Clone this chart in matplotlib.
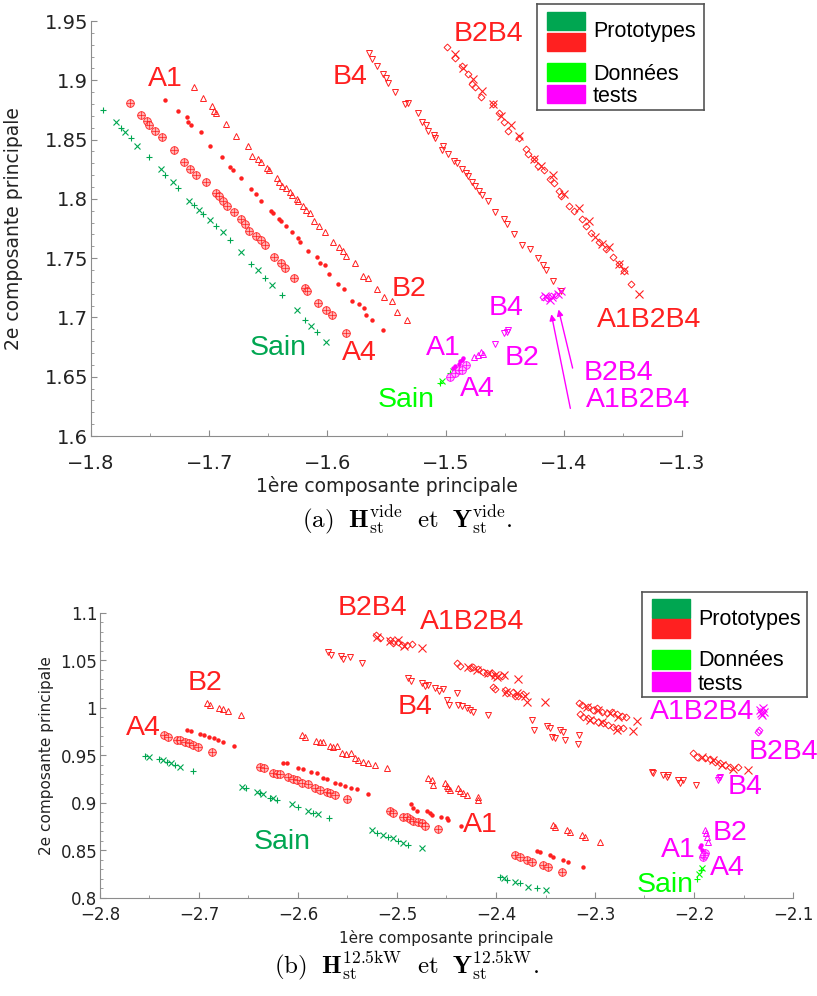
import matplotlib
matplotlib.use('Agg')
import matplotlib.pyplot as plt
from matplotlib.patches import Rectangle
from matplotlib.ticker import MultipleLocator, AutoMinorLocator, FuncFormatter

plt.rcParams['mathtext.fontset'] = 'cm'

W, H = 817, 996
DKGREEN = '#00a651'
RED = '#ff2020'
LTGREEN = '#00ff00'
MAG = '#ff00ff'
LABEL_FONT = 'Liberation Sans'

# ---------------- (a) vide : prototypes ----------------
top_sain_x = [-1.790, -1.779, -1.775, -1.771, -1.766, -1.761, -1.751, -1.741, -1.737, -1.731, -1.726, -1.717, -1.713,
              -1.709, -1.705, -1.699, -1.694, -1.688, -1.682, -1.673, -1.665, -1.659, -1.653, -1.647, -1.638, -1.626,
              -1.619, -1.614, -1.609, -1.601]
top_sain_y = [1.875, 1.865, 1.860, 1.856, 1.851, 1.845, 1.835, 1.825, 1.820, 1.814, 1.809, 1.798, 1.795, 1.791, 1.787,
              1.782, 1.777, 1.772, 1.765, 1.755, 1.745, 1.740, 1.733, 1.727, 1.719, 1.706, 1.698, 1.693, 1.688, 1.679]

top_a4_x = [-1.767, -1.758, -1.753, -1.751, -1.746, -1.740, -1.730, -1.721, -1.716, -1.711, -1.703, -1.694, -1.692,
            -1.688, -1.685, -1.679, -1.673, -1.670, -1.666, -1.660, -1.656, -1.653, -1.645, -1.639, -1.636, -1.628,
            -1.619, -1.617, -1.608, -1.601, -1.596, -1.584]
top_a4_y = [1.881, 1.871, 1.866, 1.862, 1.857, 1.852, 1.841, 1.831, 1.825, 1.820, 1.814, 1.805, 1.802, 1.798, 1.794,
            1.789, 1.783, 1.779, 1.773, 1.769, 1.765, 1.761, 1.751, 1.746, 1.742, 1.733, 1.725, 1.722, 1.712, 1.706,
            1.702, 1.687]

top_a1_x = [-1.737, -1.726, -1.719, -1.718, -1.715, -1.707, -1.699, -1.689, -1.682, -1.680, -1.673, -1.665, -1.660,
            -1.656, -1.648, -1.646, -1.641, -1.639, -1.635, -1.630, -1.625, -1.623, -1.616, -1.609, -1.606, -1.602,
            -1.599, -1.591, -1.586, -1.579, -1.573, -1.569, -1.567, -1.562, -1.553]
top_a1_y = [1.883, 1.874, 1.869, 1.865, 1.862, 1.856, 1.845, 1.835, 1.827, 1.824, 1.818, 1.808, 1.804, 1.798, 1.790,
            1.788, 1.783, 1.781, 1.777, 1.772, 1.767, 1.764, 1.756, 1.751, 1.746, 1.744, 1.737, 1.728, 1.724, 1.714,
            1.711, 1.708, 1.702, 1.698, 1.689]

top_b2_x = [-1.713, -1.705, -1.698, -1.696, -1.694, -1.686, -1.677, -1.667, -1.664, -1.659, -1.656, -1.651, -1.649,
            -1.643, -1.641, -1.638, -1.635, -1.632, -1.630, -1.626, -1.625, -1.621, -1.618, -1.615, -1.611, -1.607,
            -1.602, -1.595, -1.590, -1.587, -1.584, -1.577, -1.570, -1.566, -1.558, -1.552, -1.545, -1.541, -1.533]
top_b2_y = [1.894, 1.885, 1.878, 1.874, 1.872, 1.863, 1.853, 1.845, 1.836, 1.834, 1.831, 1.826, 1.824, 1.818, 1.814,
            1.811, 1.809, 1.806, 1.803, 1.800, 1.798, 1.794, 1.791, 1.788, 1.781, 1.777, 1.772, 1.764, 1.759, 1.756,
            1.752, 1.746, 1.735, 1.733, 1.724, 1.717, 1.714, 1.705, 1.698]

top_b4_x = [-1.565, -1.562, -1.558, -1.553, -1.550, -1.549, -1.543, -1.534, -1.532, -1.523, -1.520, -1.517, -1.515,
            -1.510, -1.509, -1.502, -1.503, -1.498, -1.493, -1.490, -1.486, -1.483, -1.481, -1.478, -1.475, -1.472,
            -1.469, -1.464, -1.458, -1.451, -1.448, -1.442, -1.435, -1.429, -1.422, -1.418, -1.415, -1.409, -1.402]
top_b4_y = [1.923, 1.918, 1.912, 1.905, 1.902, 1.898, 1.890, 1.880, 1.881, 1.872, 1.865, 1.862, 1.857, 1.854, 1.851,
            1.845, 1.841, 1.838, 1.832, 1.830, 1.825, 1.822, 1.819, 1.814, 1.811, 1.807, 1.803, 1.798, 1.789, 1.783,
            1.779, 1.770, 1.761, 1.758, 1.750, 1.744, 1.740, 1.731, 1.722]

top_b2b4_x = [-1.499, -1.492, -1.486, -1.481, -1.478, -1.475, -1.470, -1.460, -1.455, -1.451, -1.447, -1.438, -1.432,
              -1.430, -1.425, -1.422, -1.417, -1.412, -1.408, -1.404, -1.402, -1.396, -1.391, -1.385, -1.381, -1.377,
              -1.370, -1.364, -1.358, -1.353, -1.349, -1.343]
top_b2b4_y = [1.928, 1.919, 1.912, 1.905, 1.897, 1.894, 1.886, 1.880, 1.872, 1.865, 1.857, 1.851, 1.842, 1.838,
              1.834, 1.828, 1.824, 1.817, 1.813, 1.807, 1.802, 1.794, 1.790, 1.783, 1.777, 1.771, 1.764, 1.758,
              1.751, 1.745, 1.739, 1.728]

top_a1b2b4_x = [-1.492, -1.485, -1.477, -1.469, -1.460, -1.453, -1.445, -1.438, -1.425, -1.419, -1.409, -1.400,
                -1.387, -1.379, -1.374, -1.368, -1.362, -1.353, -1.349, -1.336]
top_a1b2b4_y = [1.922, 1.910, 1.901, 1.891, 1.880, 1.870, 1.862, 1.853, 1.834, 1.828, 1.820, 1.804, 1.792, 1.781,
                1.768, 1.762, 1.759, 1.745, 1.740, 1.720]

# (a) vide : données tests
top_t_sain_x = [-1.505, -1.503, -1.496, -1.494]
top_t_sain_y = [1.645, 1.646, 1.653, 1.655]
top_t_a1_x = [-1.494, -1.492, -1.489, -1.486, -1.485, -1.488]
top_t_a1_y = [1.657, 1.659, 1.661, 1.664, 1.666, 1.663]
top_t_a4_x = [-1.496, -1.492, -1.489, -1.483, -1.486]
top_t_a4_y = [1.650, 1.653, 1.656, 1.660, 1.656]
top_t_b2_x = [-1.476, -1.473, -1.468, -1.470]
top_t_b2_y = [1.667, 1.668, 1.669, 1.671]
top_t_b4_x = [-1.458, -1.451, -1.447, -1.448]
top_t_b4_y = [1.678, 1.687, 1.689, 1.688]
top_t_b2b4_x = [-1.418, -1.414, -1.411, -1.407]
top_t_b2b4_y = [1.717, 1.716, 1.718, 1.719]
top_t_a1b2b4_x = [-1.416, -1.410, -1.405, -1.402, -1.412]
top_t_a1b2b4_y = [1.718, 1.717, 1.720, 1.722, 1.715]

# ---------------- (b) 12.5kW : prototypes ----------------
bot_sain_x = [-2.7545, -2.7505, -2.7404, -2.7364, -2.7323, -2.7283, -2.7242, -2.7192, -2.7061,
              -2.6566, -2.6525, -2.6414, -2.6384, -2.6354, -2.6283, -2.6253, -2.6212, -2.6061, -2.6000, -2.5899,
              -2.5848, -2.5798, -2.5687,
              -2.5253, -2.5202, -2.5141, -2.5091, -2.5040, -2.4990, -2.4939, -2.4889, -2.4747,
              -2.3960, -2.3919, -2.3889, -2.3808, -2.3758, -2.3677, -2.3586, -2.3495]
bot_sain_y = [0.9495, 0.9484, 0.9463, 0.9453, 0.9432, 0.9421, 0.9400, 0.9379, 0.9337,
              0.9168, 0.9158, 0.9116, 0.9105, 0.9095, 0.9053, 0.9053, 0.9032, 0.8989, 0.8958, 0.8916,
              0.8895, 0.8884, 0.8842,
              0.8716, 0.8684, 0.8663, 0.8642, 0.8632, 0.8600, 0.8579, 0.8558, 0.8526,
              0.8221, 0.8211, 0.8189, 0.8168, 0.8158, 0.8116, 0.8105, 0.8084]

bot_a4_x = [-2.7354, -2.7313, -2.7222, -2.7192, -2.7141, -2.7101, -2.7061, -2.7010, -2.6869,
            -2.6384, -2.6343, -2.6253, -2.6212, -2.6182, -2.6101, -2.6051, -2.6010, -2.5960, -2.5899, -2.5828,
            -2.5778, -2.5707, -2.5677, -2.5626, -2.5505,
            -2.5071, -2.5040, -2.4939, -2.4899, -2.4869, -2.4838, -2.4788, -2.4747, -2.4717, -2.4586,
            -2.3808, -2.3758, -2.3687, -2.3636, -2.3525, -2.3475, -2.3333]
bot_a4_y = [0.9716, 0.9695, 0.9663, 0.9663, 0.9642, 0.9632, 0.9611, 0.9589, 0.9537,
            0.9379, 0.9368, 0.9316, 0.9305, 0.9305, 0.9274, 0.9253, 0.9242, 0.9211, 0.9200, 0.9158,
            0.9137, 0.9116, 0.9105, 0.9084, 0.9042,
            0.8916, 0.8895, 0.8853, 0.8853, 0.8832, 0.8811, 0.8800, 0.8789, 0.8758, 0.8726,
            0.8453, 0.8432, 0.8400, 0.8379, 0.8347, 0.8326, 0.8274]

bot_a1_x = [-2.7121, -2.7081, -2.6990, -2.6949, -2.6899, -2.6848, -2.6808, -2.6758, -2.6646,
            -2.6152, -2.6111, -2.6000, -2.5949, -2.5869, -2.5808, -2.5747, -2.5707, -2.5626, -2.5576, -2.5525,
            -2.5465, -2.5404, -2.5293,
            -2.4859, -2.4838, -2.4798, -2.4697, -2.4667, -2.4646, -2.4556, -2.4495, -2.4485, -2.4354,
            -2.3586, -2.3556, -2.3455, -2.3424, -2.3323, -2.3273, -2.3121]
bot_a1_y = [0.9768, 0.9758, 0.9726, 0.9716, 0.9695, 0.9684, 0.9663, 0.9642, 0.9600,
            0.9421, 0.9421, 0.9368, 0.9358, 0.9326, 0.9316, 0.9263, 0.9253, 0.9211, 0.9200, 0.9179,
            0.9158, 0.9147, 0.9095,
            0.8989, 0.8947, 0.8916, 0.8916, 0.8895, 0.8874, 0.8853, 0.8842, 0.8821, 0.8758,
            0.8495, 0.8484, 0.8453, 0.8432, 0.8400, 0.8379, 0.8326]

bot_b2_x = [-2.6919, -2.6889, -2.6798, -2.6758, -2.6707, -2.6576,
            -2.5960, -2.5929, -2.5818, -2.5778, -2.5747, -2.5677, -2.5646, -2.5606, -2.5556, -2.5515, -2.5465,
            -2.5424, -2.5394, -2.5343, -2.5293, -2.5222, -2.5101,
            -2.4687, -2.4646, -2.4636, -2.4515, -2.4495, -2.4485, -2.4465, -2.4384, -2.4364, -2.4333, -2.4293,
            -2.4182, -2.4182,
            -2.3424, -2.3404, -2.3283, -2.3253, -2.3131, -2.3101, -2.2949]
bot_b2_y = [1.0053, 1.0032, 1.0000, 0.9989, 0.9968, 0.9926,
            0.9716, 0.9695, 0.9653, 0.9642, 0.9642, 0.9600, 0.9589, 0.9600, 0.9526, 0.9516, 0.9526,
            0.9474, 0.9453, 0.9432, 0.9421, 0.9400, 0.9368,
            0.9263, 0.9242, 0.9189, 0.9211, 0.9179, 0.9158, 0.9137, 0.9158, 0.9126, 0.9105, 0.9084,
            0.9063, 0.9032,
            0.8768, 0.8747, 0.8716, 0.8695, 0.8663, 0.8642, 0.8589]

bot_b4_x = [-2.5697, -2.5667, -2.5566, -2.5545, -2.5475, -2.5354,
            -2.4889, -2.4859, -2.4747, -2.4717, -2.4687, -2.4616, -2.4576, -2.4535, -2.4495, -2.4475, -2.4394,
            -2.4384, -2.4343, -2.4293, -2.4263, -2.4232, -2.4081,
            -2.3636, -2.3616, -2.3485, -2.3455, -2.3434, -2.3404, -2.3354, -2.3323, -2.3303, -2.3162, -2.3172,
            -2.2424, -2.2414, -2.2313, -2.2273, -2.2263, -2.2162, -2.2141, -2.2111, -2.1980]
bot_b4_y = [1.0589, 1.0558, 1.0547, 1.0516, 1.0537, 1.0474,
            1.0316, 1.0284, 1.0263, 1.0232, 1.0242, 1.0211, 1.0179, 1.0200, 1.0084, 1.0032, 1.0158,
            1.0032, 1.0021, 1.0000, 0.9979, 0.9958, 0.9926,
            0.9874, 0.9768, 0.9811, 0.9789, 0.9695, 0.9684, 0.9768, 0.9747, 0.9663, 0.9716, 0.9621,
            0.9326, 0.9316, 0.9295, 0.9274, 0.9295, 0.9242, 0.9211, 0.9242, 0.9189]

bot_b2b4_x = [-2.5212, -2.5172, -2.5071, -2.5040, -2.4990, -2.4949, -2.4899, -2.4848,
              -2.4394, -2.4364, -2.4263, -2.4232, -2.4182, -2.4131, -2.4091, -2.4040, -2.4010, -2.3939,
              -2.4030, -2.4010, -2.3909, -2.3889, -2.3828, -2.3808, -2.3778, -2.3727,
              -2.3162, -2.3131, -2.3071, -2.3020, -2.2980, -2.2929, -2.2879, -2.2828, -2.2778, -2.2727, -2.2687,
              -2.3152, -2.3121, -2.3071, -2.3020, -2.2970, -2.2919, -2.2869, -2.2818, -2.2768, -2.2717,
              -2.2010, -2.1970, -2.1889, -2.1838, -2.1788, -2.1737, -2.1687, -2.1636, -2.1556]
bot_b2b4_y = [1.0768, 1.0737, 1.0716, 1.0684, 1.0695, 1.0663, 1.0663, 1.0674,
              1.0474, 1.0442, 1.0421, 1.0432, 1.0411, 1.0379, 1.0368, 1.0368, 1.0337, 1.0337,
              1.0221, 1.0200, 1.0189, 1.0158, 1.0168, 1.0126, 1.0126, 1.0147,
              1.0053, 1.0032, 1.0011, 0.9979, 1.0000, 0.9958, 0.9947, 0.9958, 0.9937, 0.9916, 0.9905,
              0.9937, 0.9905, 0.9895, 0.9874, 0.9853, 0.9842, 0.9821, 0.9800, 0.9789, 0.9789,
              0.9526, 0.9484, 0.9474, 0.9463, 0.9432, 0.9421, 0.9400, 0.9379, 0.9379]

bot_a1b2b4_x = [-2.5202, -2.5071, -2.4990, -2.4929, -2.4747,
                -2.4283, -2.4192, -2.4081, -2.4010, -2.3990, -2.3919, -2.3778, -2.3899, -2.3788, -2.3707, -2.3687,
                -2.3505,
                -2.3081, -2.2970, -2.2848, -2.2768, -2.2576, -2.3051, -2.2929, -2.2778, -2.2616,
                -2.1919, -2.1808, -2.1717, -2.1606, -2.1455]
bot_a1b2b4_y = [1.0747, 1.0705, 1.0716, 1.0653, 1.0632,
                1.0432, 1.0400, 1.0368, 1.0347, 1.0326, 1.0347, 1.0305, 1.0168, 1.0158, 1.0126, 1.0063,
                1.0063,
                1.0011, 0.9979, 0.9947, 0.9905, 0.9863, 0.9874, 0.9853, 0.9768, 0.9758,
                0.9484, 0.9453, 0.9400, 0.9358, 0.9347]

# (b) 12.5kW : données tests
bot_t_sain_x = [-2.1970, -2.1950, -2.1930, -2.1919]
bot_t_sain_y = [0.8200, 0.8250, 0.8290, 0.8316]
bot_t_a4_x = [-2.1889, -2.1909, -2.1899]
bot_t_a4_y = [0.8474, 0.8432, 0.8450]
bot_t_a1_x = [-2.1939, -2.1919, -2.1929]
bot_t_a1_y = [0.8537, 0.8505, 0.8560]
bot_t_b2_x = [-2.1889, -2.1869, -2.1859, -2.1879]
bot_t_b2_y = [0.8716, 0.8642, 0.8589, 0.8680]
bot_t_b4_x = [-2.1737, -2.1758, -2.1747]
bot_t_b4_y = [0.9274, 0.9242, 0.9260]
bot_t_b2b4_x = [-2.1354, -2.1344]
bot_t_b2b4_y = [0.9747, 0.9768]
bot_t_a1b2b4_x = [-2.1333, -2.1313, -2.1303, -2.1290, -2.1320]
bot_t_a1b2b4_y = [0.9979, 0.9926, 1.0000, 0.9960, 0.9950]


fig = plt.figure(figsize=(W / 100, H / 100), dpi=100)


def px_axes(x0, y0, x1, y1):
    return fig.add_axes([x0 / W, 1 - y1 / H, (x1 - x0) / W, (y1 - y0) / H])


def fmt(v, pos):
    return f"{v:g}".replace('-', '\u2212')


def style_axes(ax, xlim, ylim, xstep, ystep, tsize, lsize, xpad, xlpad, ylx):
    ax.set_xlim(*xlim)
    ax.set_ylim(*ylim)
    ax.xaxis.set_major_locator(MultipleLocator(xstep))
    ax.yaxis.set_major_locator(MultipleLocator(ystep))
    ax.xaxis.set_minor_locator(AutoMinorLocator(2))
    ax.yaxis.set_minor_locator(AutoMinorLocator(5))
    ax.xaxis.set_major_formatter(FuncFormatter(fmt))
    ax.yaxis.set_major_formatter(FuncFormatter(fmt))
    for s in ['top', 'right']:
        ax.spines[s].set_visible(False)
    for s in ['left', 'bottom']:
        ax.spines[s].set_color('#8c8c8c')
    ax.tick_params(which='both', direction='in', color='#8c8c8c', labelsize=tsize, labelcolor='#222222')
    ax.tick_params(axis='y', pad=2)
    ax.tick_params(axis='x', pad=xpad)
    ax.tick_params(which='major', length=4)
    ax.tick_params(which='minor', length=2)
    ax.set_xlabel('1ère composante principale', fontsize=lsize, color='#222222', labelpad=xlpad)
    ax.set_ylabel('2e composante principale', fontsize=lsize, color='#222222')
    ax.yaxis.set_label_coords(ylx, 0.5)


def draw_classes(ax, d, test=False):
    c = MAG if test else RED
    g = LTGREEN if test else DKGREEN
    sx, sy = d['sain']
    ax.plot(sx[0::2], sy[0::2], ls='none', marker='+', ms=5, mew=0.8, color=g)
    ax.plot(sx[1::2], sy[1::2], ls='none', marker='x', ms=4, mew=0.8, color=g)
    x, y = d['a4']
    ax.plot(x, y, ls='none', marker='o', ms=5.5, mfc='#ffb3b3' if not test else '#ffb3ff', mec=c, mew=0.6)
    ax.plot(x, y, ls='none', marker='+', ms=5.5, mew=0.5, color=c)
    x, y = d['a1']
    ax.plot(x, y, ls='none', marker='o', ms=3.2, mew=0, color=c)
    x, y = d['b2']
    ax.plot(x, y, ls='none', marker='^', ms=4, mfc='none', mec=c, mew=0.7)
    x, y = d['b4']
    ax.plot(x, y, ls='none', marker='v', ms=4, mfc='none', mec=c, mew=0.7)
    x, y = d['b2b4']
    ax.plot(x, y, ls='none', marker='D', ms=3.5, mfc='none', mec=c, mew=0.7)
    x, y = d['a1b2b4']
    ax.plot(x, y, ls='none', marker='x', ms=6, mew=0.8, color=c)


def lab(ax, x, y, s, color):
    ax.text(x, y, s, color=color, fontsize=20.5, family=LABEL_FONT, ha='center', va='center', clip_on=False)


def legend_box(x0, y0, x1, y1, py, th):
    lax = px_axes(x0, y0, x1, y1)
    lax.set_xlim(x0, x1)
    lax.set_ylim(y1, y0)
    lax.set_xticks([])
    lax.set_yticks([])
    for s in lax.spines.values():
        s.set_color('#555555')
        s.set_linewidth(1.2)
    for yy, col in zip(py, [DKGREEN, RED, LTGREEN, MAG]):
        lax.add_patch(Rectangle((x0 + 10, yy), 38, 18.5, color=col))
    tx = x0 + 56
    lax.text(tx, th[0], 'Prototypes', fontsize=15.5, family=LABEL_FONT, va='center', ha='left')
    lax.text(tx, th[1], 'Données', fontsize=15.5, family=LABEL_FONT, va='center', ha='left')
    lax.text(tx, th[2], 'tests', fontsize=15.5, family=LABEL_FONT, va='center', ha='left')


# ---------- (a) ----------
ax1 = px_axes(91, 21, 682, 436)
style_axes(ax1, (-1.8, -1.3), (1.6, 1.95), 0.1, 0.05, 14, 13.5, 13, 2, -0.115)
draw_classes(ax1, {'sain': (top_sain_x, top_sain_y), 'a4': (top_a4_x, top_a4_y), 'a1': (top_a1_x, top_a1_y),
                   'b2': (top_b2_x, top_b2_y), 'b4': (top_b4_x, top_b4_y), 'b2b4': (top_b2b4_x, top_b2b4_y),
                   'a1b2b4': (top_a1b2b4_x, top_a1b2b4_y)})
draw_classes(ax1, {'sain': (top_t_sain_x, top_t_sain_y), 'a4': (top_t_a4_x, top_t_a4_y),
                   'a1': (top_t_a1_x, top_t_a1_y), 'b2': (top_t_b2_x, top_t_b2_y), 'b4': (top_t_b4_x, top_t_b4_y),
                   'b2b4': (top_t_b2b4_x, top_t_b2b4_y), 'a1b2b4': (top_t_a1b2b4_x, top_t_a1b2b4_y)}, test=True)
ax1.annotate('', xy=(-1.405, 1.709), xytext=(-1.392, 1.655),
             arrowprops=dict(arrowstyle='-|>', color=MAG, lw=1, mutation_scale=9))
ax1.annotate('', xy=(-1.411, 1.705), xytext=(-1.394, 1.621),
             arrowprops=dict(arrowstyle='-|>', color=MAG, lw=1, mutation_scale=9))
lab(ax1, -1.737, 1.901, 'A1', RED)
lab(ax1, -1.581, 1.903, 'B4', RED)
lab(ax1, -1.4636, 1.939, 'B2B4', RED)
lab(ax1, -1.531, 1.724, 'B2', RED)
lab(ax1, -1.573, 1.670, 'A4', RED)
lab(ax1, -1.642, 1.674, 'Sain', DKGREEN)
lab(ax1, -1.328, 1.698, 'A1B2B4', RED)
lab(ax1, -1.449, 1.708, 'B4', MAG)
lab(ax1, -1.502, 1.674, 'A1', MAG)
lab(ax1, -1.435, 1.666, 'B2', MAG)
lab(ax1, -1.473, 1.640, 'A4', MAG)
lab(ax1, -1.533, 1.630, 'Sain', LTGREEN)
lab(ax1, -1.354, 1.653, 'B2B4', MAG)
lab(ax1, -1.337, 1.630, 'A1B2B4', MAG)

# ---------- (b) ----------
ax2 = px_axes(100, 613, 793, 898)
style_axes(ax2, (-2.8, -2.1), (0.8, 1.1), 0.1, 0.05, 12, 11, 6, 4, -0.066)
draw_classes(ax2, {'sain': (bot_sain_x, bot_sain_y), 'a4': (bot_a4_x, bot_a4_y), 'a1': (bot_a1_x, bot_a1_y),
                   'b2': (bot_b2_x, bot_b2_y), 'b4': (bot_b4_x, bot_b4_y), 'b2b4': (bot_b2b4_x, bot_b2b4_y),
                   'a1b2b4': (bot_a1b2b4_x, bot_a1b2b4_y)})
draw_classes(ax2, {'sain': (bot_t_sain_x, bot_t_sain_y), 'a4': (bot_t_a4_x, bot_t_a4_y),
                   'a1': (bot_t_a1_x, bot_t_a1_y), 'b2': (bot_t_b2_x, bot_t_b2_y), 'b4': (bot_t_b4_x, bot_t_b4_y),
                   'b2b4': (bot_t_b2b4_x, bot_t_b2b4_y), 'a1b2b4': (bot_t_a1b2b4_x, bot_t_a1b2b4_y)}, test=True)
lab(ax2, -2.7566, 0.979, 'A4', RED)
lab(ax2, -2.694, 1.0263, 'B2', RED)
lab(ax2, -2.5253, 1.1053, 'B2B4', RED)
lab(ax2, -2.4242, 1.0905, 'A1B2B4', RED)
lab(ax2, -2.4818, 1.001, 'B4', RED)
lab(ax2, -2.4162, 0.8768, 'A1', RED)
lab(ax2, -2.6162, 0.859, 'Sain', DKGREEN)
lab(ax2, -2.1919, 0.9958, 'A1B2B4', MAG)
lab(ax2, -2.110, 0.9537, 'B2B4', MAG)
lab(ax2, -2.1485, 0.9168, 'B4', MAG)
lab(ax2, -2.1636, 0.8684, 'B2', MAG)
lab(ax2, -2.2162, 0.8505, 'A1', MAG)
lab(ax2, -2.1667, 0.8316, 'A4', MAG)
lab(ax2, -2.2293, 0.8137, 'Sain', LTGREEN)

# legends
legend_box(537, 4, 704, 110, [12, 33, 63, 85], [32, 74, 97])
legend_box(642, 592, 807, 697, [599, 619, 650, 672], [619, 660, 684])

# captions
fig.text(407 / W, 1 - 520 / H,
         r'$\mathrm{(a)}\ \ \mathbf{H}_{\mathrm{st}}^{\mathrm{vide}}\ \ \mathrm{et}\ \ \mathbf{Y}_{\mathrm{st}}^{\mathrm{vide}}.$',
         fontsize=18, ha='center', va='center')
fig.text(407 / W, 1 - 966 / H,
         r'$\mathrm{(b)}\ \ \mathbf{H}_{\mathrm{st}}^{\mathrm{12.5kW}}\ \ \mathrm{et}\ \ \mathbf{Y}_{\mathrm{st}}^{\mathrm{12.5kW}}.$',
         fontsize=18, ha='center', va='center')

fig.savefig('out.png', dpi=100)
